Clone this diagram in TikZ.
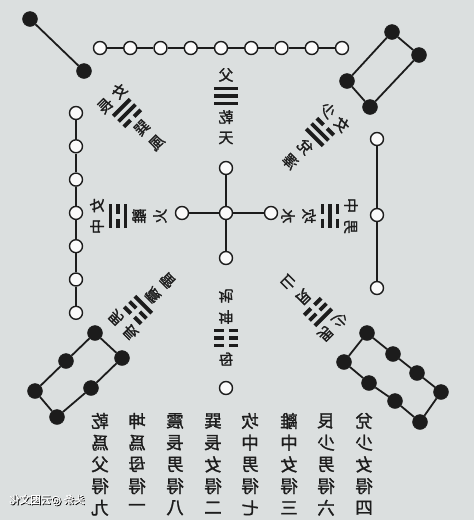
\documentclass[tikz,border=0pt]{standalone}
\usepackage{fontspec}
\usepackage{graphicx}
\newfontfamily\cjk[FakeBold=1.3]{Noto Sans CJK TC}
\newfontfamily\cjksc[FakeBold=1.5]{Noto Sans CJK SC}
\definecolor{paper}{RGB}{219,223,223}
\definecolor{ink}{RGB}{28,28,28}
\tikzset{
  hollow/.style={circle, draw=ink, line width=1.4pt, fill=white!85!paper, minimum size=13pt, inner sep=0pt},
  blackdot/.style={circle, draw=ink, fill=ink, minimum size=15pt, inner sep=0pt},
  link/.style={draw=ink, line width=1.8pt},
  glyph/.style={font=\cjk\fontsize{15}{15}\selectfont, text=ink, inner sep=0pt, transform shape},
  colglyph/.style={font=\cjk\fontsize{17.5}{17.5}\selectfont, text=ink, inner sep=0pt},
  yaoline/.style={draw=ink, line width=3.8pt},
}
% one line of a trigram: #1 = 1 solid, 0 broken; #2 = offset along the axis
\newcommand{\yao}[2]{\ifnum#1=1 \draw[yaoline] (-12,#2)--(12,#2);\else\draw[yaoline] (-12,#2)--(-2.5,#2) (2.5,#2)--(12,#2);\fi}
\def\yaos#1#2#3{\yao{#1}{7.5}\yao{#2}{0}\yao{#3}{-7.5}}
% trigram group: x, y, outward angle, relation, name, element, lines (inner mid outer), node prefix
\newcommand{\gua}[8]{%
  \begin{scope}[shift={(#1,#2)},rotate=#3-90]
    \node[glyph] (#8rel) at (0,-21) {\reflectbox{#4}};
    \yaos#7
    \node[glyph] (#8name) at (0,21) {\reflectbox{#5}};
    \node[glyph] (#8elem) at (0,42) {\reflectbox{#6}};
  \end{scope}}
% a column of text at the bottom
\newcommand{\textcol}[3]{%
  \foreach \c [count=\k] in {#3} {\node[colglyph] (#2\k) at (#1,{421+21.7*(\k-1)}) {\reflectbox{\c}};}}
\begin{document}
\begin{tikzpicture}[x=1pt,y=-1pt]
\fill[paper] (0,0) rectangle (474,520);
\useasboundingbox (0,0) rectangle (474,520);

% top-left pair of black dots
\node[blackdot] (a1) at (30,19) {};
\node[blackdot] (a2) at (84,71) {};
\draw[link] (a1) -- (a2);

% top row: nine white dots
\foreach \i in {1,...,9} \node[hollow] (t\i) at ({100+30.25*(\i-1)},48) {};
\foreach \i [evaluate=\i as \j using int(\i+1)] in {1,...,8} \draw[link] (t\i) -- (t\j);

% top-right: four black dots
\node[blackdot] (b1) at (392,32) {};
\node[blackdot] (b2) at (419,55) {};
\node[blackdot] (b3) at (370,107) {};
\node[blackdot] (b4) at (347,81) {};
\draw[link] (b1) -- (b2) -- (b3) -- (b4) -- (b1);

% left column: seven white dots
\foreach \i in {1,...,7} \node[hollow] (l\i) at (76,{113+33.3*(\i-1)}) {};
\foreach \i [evaluate=\i as \j using int(\i+1)] in {1,...,6} \draw[link] (l\i) -- (l\j);

% right column: three white dots
\node[hollow] (r1) at (377,139) {};
\node[hollow] (r2) at (377,215) {};
\node[hollow] (r3) at (377,288) {};
\draw[link] (r1) -- (r2) -- (r3);

% centre cross: five white dots
\node[hollow] (c0) at (226,213) {};
\node[hollow] (cw) at (182,213) {};
\node[hollow] (ce) at (271,213) {};
\node[hollow] (cn) at (226,168) {};
\node[hollow] (cs) at (226,258) {};
\draw[link] (c0) -- (cw) (c0) -- (ce) (c0) -- (cn) (c0) -- (cs);

% bottom: one white dot
\node[hollow] (s1) at (226,388) {};

% bottom-left: six black dots
\node[blackdot] (p1) at (95,333) {};
\node[blackdot] (p2) at (122,358) {};
\node[blackdot] (p3) at (91,388) {};
\node[blackdot] (p4) at (57,417) {};
\node[blackdot] (p5) at (35,391) {};
\node[blackdot] (p6) at (66,361) {};
\draw[link] (p1) -- (p2) -- (p3) -- (p4) -- (p5) -- (p6) -- (p1);

% bottom-right: eight black dots
\node[blackdot] (q1) at (367,333) {};
\node[blackdot] (q2) at (393,354) {};
\node[blackdot] (q3) at (417,373) {};
\node[blackdot] (q4) at (441,392) {};
\node[blackdot] (q5) at (420,422) {};
\node[blackdot] (q6) at (395,401) {};
\node[blackdot] (q7) at (369,383) {};
\node[blackdot] (q8) at (344,362) {};
\draw[link] (q1) -- (q2) -- (q3) -- (q4) -- (q5) -- (q6) -- (q7) -- (q8) -- (q1);

% the eight trigram groups
\gua{226}{96}{90}{父}{乾}{天}{111}{qian}
\gua{127}{113}{135}{女\hspace{5pt}長}{巽}{風}{011}{xun}
\gua{320}{132}{45}{女\hspace{5pt}少}{兌}{澤}{110}{dui}
\gua{118}{216}{180}{女\hspace{6pt}中}{離}{火}{101}{li}
\gua{330}{216}{0}{男\hspace{6pt}中}{坎}{水}{010}{kan}
\gua{138}{310}{225}{男\hspace{5pt}長}{震}{雷}{100}{zhen}
\gua{318}{312}{315}{男\hspace{5pt}少}{艮}{山}{001}{gen}
\gua{226}{338}{270}{母}{坤}{地}{000}{kun}

% text columns at the bottom
\textcol{100}{qa}{乾,爲,父,得,九}
\textcol{137}{kb}{坤,爲,母,得,一}
\textcol{175}{zc}{震,長,男,得,八}
\textcol{213}{xd}{巽,長,女,得,二}
\textcol{250}{ke}{坎,中,男,得,七}
\textcol{289}{lf}{離,中,女,得,三}
\textcol{326}{gg}{艮,少,男,得,六}
\textcol{364}{dh}{兌,少,女,得,四}

% watermark
\node[font=\cjksc\fontsize{10.5}{10.5}\selectfont, text=black] (wmshadow) at (47.8,500.8) {\reflectbox{头条 @云图文化}};
\node[font=\cjksc\fontsize{10.5}{10.5}\selectfont, text=white] (wm) at (47,500) {\reflectbox{头条 @云图文化}};
\end{tikzpicture}
\end{document}
